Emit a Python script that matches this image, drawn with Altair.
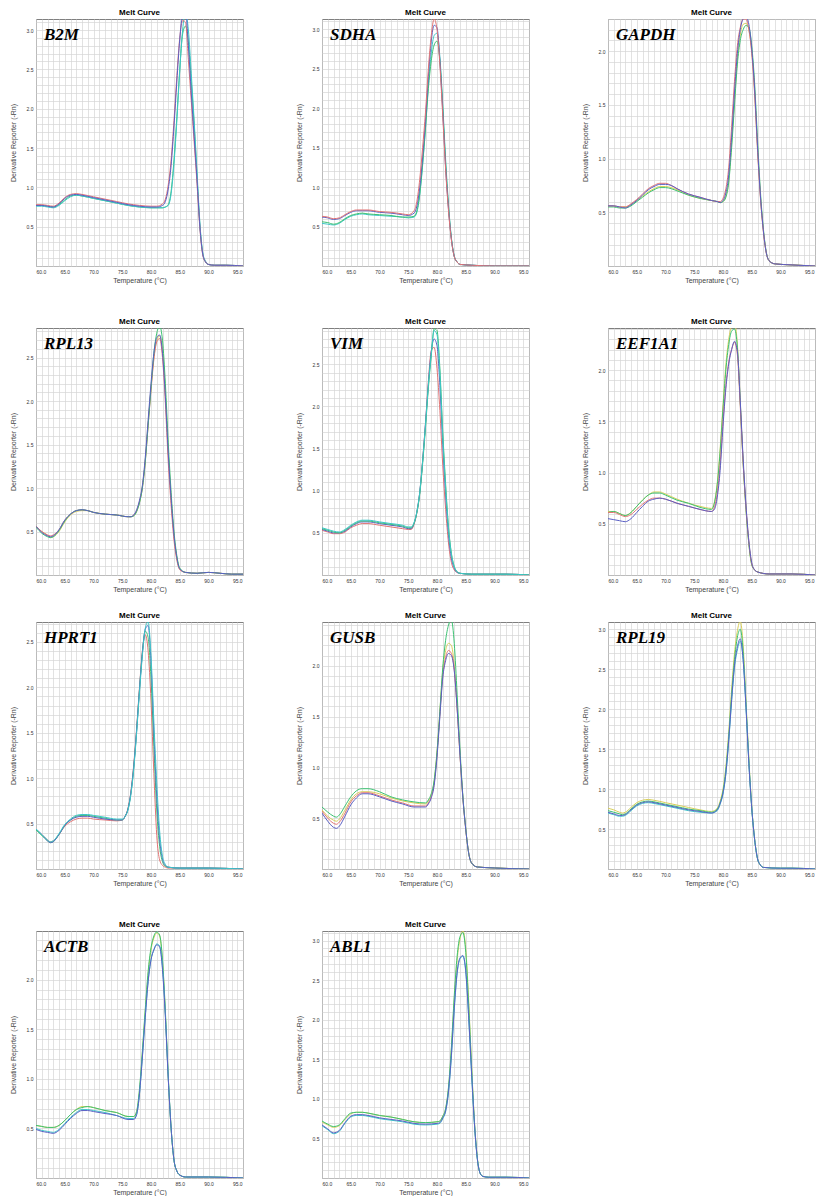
import altair as alt
import pandas as pd

# ---------------- data ----------------
GENES = ["B2M", "SDHA", "GAPDH", "RPL13", "VIM", "EEF1A1",
         "HPRT1", "GUSB", "RPL19", "ACTB", "ABL1"]
Y_TOP = [3.14, 3.13, 2.30, 2.84, 2.93, 2.41, 2.72, 2.43, 3.09, 2.49, 3.12]

B2M_T = [60, 61, 62, 63, 64, 65, 66, 67, 68, 70, 72, 74, 76, 78, 80, 81, 82, 82.5, 83,
         83.5, 84, 84.5, 85, 85.5, 86, 86.5, 87, 87.5, 88, 88.5, 89, 89.5, 90, 91, 93, 96]
B2M_RED = [0.78, 0.78, 0.77, 0.76, 0.80, 0.87, 0.91, 0.92, 0.91, 0.88, 0.85, 0.82, 0.79, 0.77, 0.76, 0.76, 0.79, 0.85, 1.03,
           1.35, 1.85, 2.42, 2.9, 3.12, 3.1, 2.62, 2.1, 1.58, 1.05, 0.48, 0.14, 0.05, 0.02, 0.01, 0.01, 0.0]
B2M_BLUE = [0.77, 0.77, 0.76, 0.75, 0.79, 0.86, 0.90, 0.91, 0.90, 0.87, 0.84, 0.81, 0.78, 0.76, 0.75, 0.75, 0.77, 0.82, 0.98,
            1.28, 1.78, 2.35, 2.88, 3.2, 3.25, 2.8, 2.2, 1.65, 1.1, 0.5, 0.15, 0.05, 0.02, 0.01, 0.01, 0.0]
B2M_GREEN = [0.77, 0.77, 0.76, 0.75, 0.78, 0.84, 0.89, 0.90, 0.89, 0.86, 0.83, 0.80, 0.77, 0.75, 0.74, 0.74, 0.74, 0.75, 0.78,
             0.95, 1.35, 1.9, 2.5, 2.95, 3.05, 2.85, 2.35, 1.8, 1.15, 0.52, 0.16, 0.05, 0.02, 0.01, 0.01, 0.0]
B2M_CYAN = [0.76, 0.76, 0.75, 0.74, 0.77, 0.83, 0.88, 0.90, 0.89, 0.86, 0.83, 0.80, 0.77, 0.75, 0.74, 0.74, 0.74, 0.75, 0.77,
            0.92, 1.3, 1.85, 2.48, 3.0, 3.22, 3.0, 2.45, 1.85, 1.2, 0.55, 0.17, 0.06, 0.02, 0.01, 0.01, 0.0]

SDHA_T = [60, 61, 62, 63, 64, 65, 66, 67, 68, 70, 72, 74, 75, 76, 76.5, 77, 77.5, 78, 78.5,
          79, 79.5, 80, 80.5, 81, 81.5, 82, 82.5, 83, 83.5, 84, 86, 90, 96]
SDHA_RED = [0.63, 0.62, 0.60, 0.61, 0.65, 0.69, 0.71, 0.71, 0.71, 0.69, 0.68, 0.66, 0.65, 0.70, 0.82, 1.1, 1.5, 1.95, 2.5,
            2.92, 3.13, 3.0, 2.55, 1.9, 1.22, 0.7, 0.33, 0.12, 0.05, 0.02, 0.01, 0.0, 0.0]
SDHA_BLUE = [0.62, 0.61, 0.59, 0.60, 0.64, 0.68, 0.70, 0.70, 0.70, 0.68, 0.67, 0.65, 0.64, 0.67, 0.76, 1.0, 1.38, 1.85, 2.4,
             2.85, 3.05, 3.02, 2.6, 1.95, 1.25, 0.72, 0.34, 0.12, 0.05, 0.02, 0.01, 0.0, 0.0]
SDHA_GREEN = [0.56, 0.55, 0.53, 0.55, 0.60, 0.64, 0.66, 0.67, 0.66, 0.65, 0.64, 0.62, 0.62, 0.63, 0.70, 0.92, 1.3, 1.75, 2.25,
              2.6, 2.8, 2.85, 2.6, 2.0, 1.3, 0.75, 0.35, 0.12, 0.05, 0.02, 0.01, 0.0, 0.0]
SDHA_CYAN = [0.54, 0.53, 0.52, 0.54, 0.59, 0.63, 0.65, 0.66, 0.65, 0.64, 0.63, 0.62, 0.61, 0.62, 0.68, 0.9, 1.28, 1.75, 2.3,
             2.7, 2.92, 2.95, 2.65, 2.05, 1.35, 0.78, 0.36, 0.13, 0.05, 0.02, 0.01, 0.0, 0.0]

GAPDH_T = [60, 61, 62, 63, 64, 65, 66, 67, 68, 69, 70, 71, 72, 74, 76, 78, 79, 79.5, 80, 80.5,
           81, 81.5, 82, 82.5, 83, 83.5, 84, 84.5, 85, 85.5, 86, 86.5, 87, 87.5, 88, 89, 92, 96]
GAPDH_RED = [0.56, 0.56, 0.55, 0.55, 0.58, 0.62, 0.67, 0.72, 0.75, 0.77, 0.77, 0.75, 0.72, 0.67, 0.64, 0.61, 0.60, 0.60, 0.63, 0.72,
             0.92, 1.3, 1.72, 2.05, 2.22, 2.3, 2.3, 2.2, 1.98, 1.6, 1.08, 0.64, 0.33, 0.13, 0.05, 0.02, 0.01, 0.0]
GAPDH_BLUE = [0.56, 0.56, 0.55, 0.54, 0.57, 0.61, 0.66, 0.71, 0.74, 0.76, 0.76, 0.75, 0.72, 0.67, 0.64, 0.61, 0.60, 0.59, 0.61, 0.68,
              0.85, 1.2, 1.62, 1.98, 2.2, 2.3, 2.32, 2.25, 2.02, 1.65, 1.12, 0.66, 0.34, 0.13, 0.05, 0.02, 0.01, 0.0]
GAPDH_GREEN = [0.55, 0.55, 0.54, 0.54, 0.56, 0.60, 0.64, 0.68, 0.71, 0.73, 0.73, 0.72, 0.70, 0.66, 0.63, 0.61, 0.60, 0.59, 0.60, 0.64,
               0.78, 1.1, 1.5, 1.88, 2.1, 2.2, 2.24, 2.22, 2.05, 1.7, 1.18, 0.7, 0.36, 0.14, 0.05, 0.02, 0.01, 0.0]
GAPDH_YELLOW = [0.56, 0.56, 0.55, 0.55, 0.57, 0.61, 0.65, 0.69, 0.72, 0.74, 0.74, 0.73, 0.71, 0.66, 0.63, 0.61, 0.60, 0.59, 0.60, 0.65,
                0.8, 1.15, 1.55, 1.92, 2.15, 2.25, 2.26, 2.2, 2.0, 1.62, 1.1, 0.66, 0.34, 0.13, 0.05, 0.02, 0.01, 0.0]

RPL13_T = [60, 61, 62, 62.5, 63, 64, 65, 66, 67, 68, 69, 70, 72, 74, 76, 76.5, 77, 77.5, 78, 78.5,
           79, 79.5, 80, 80.5, 81, 81.5, 82, 82.5, 83, 83.5, 84, 84.5, 85, 86, 88, 90, 92, 94, 96]
RPL13_BLUE = [0.56, 0.49, 0.45, 0.44, 0.45, 0.52, 0.63, 0.70, 0.74, 0.75, 0.74, 0.72, 0.70, 0.69, 0.67, 0.67, 0.69, 0.75, 0.86, 1.03,
              1.35, 1.78, 2.2, 2.55, 2.73, 2.76, 2.55, 2.05, 1.4, 0.88, 0.46, 0.2, 0.07, 0.03, 0.02, 0.03, 0.02, 0.01, 0.01]
RPL13_RED = [0.56, 0.50, 0.46, 0.45, 0.46, 0.52, 0.63, 0.70, 0.74, 0.75, 0.74, 0.72, 0.70, 0.69, 0.67, 0.67, 0.69, 0.74, 0.84, 1.0,
             1.3, 1.72, 2.12, 2.48, 2.68, 2.72, 2.5, 1.98, 1.3, 0.8, 0.4, 0.17, 0.06, 0.03, 0.02, 0.03, 0.02, 0.01, 0.01]
RPL13_GREEN = [0.55, 0.48, 0.44, 0.43, 0.44, 0.51, 0.62, 0.70, 0.74, 0.75, 0.74, 0.72, 0.70, 0.69, 0.67, 0.67, 0.68, 0.73, 0.83, 1.0,
               1.3, 1.72, 2.15, 2.55, 2.78, 2.86, 2.7, 2.2, 1.52, 0.95, 0.5, 0.22, 0.08, 0.03, 0.02, 0.03, 0.02, 0.01, 0.01]
RPL13_YELLOW = [0.56, 0.50, 0.46, 0.43, 0.44, 0.50, 0.61, 0.69, 0.73, 0.74, 0.74, 0.72, 0.70, 0.69, 0.67, 0.67, 0.68, 0.73, 0.84, 1.02,
                1.32, 1.75, 2.15, 2.5, 2.7, 2.75, 2.6, 2.1, 1.42, 0.88, 0.45, 0.19, 0.07, 0.03, 0.02, 0.03, 0.02, 0.01, 0.01]

VIM_T = [60, 61, 62, 63, 64, 65, 66, 67, 68, 70, 72, 74, 75, 75.5, 76, 76.5, 77, 77.5, 78, 78.5,
         79, 79.5, 80, 80.5, 81, 81.5, 82, 82.5, 83, 83.5, 84, 86, 88, 90, 92, 96]
VIM_CYAN = [0.56, 0.54, 0.52, 0.51, 0.54, 0.59, 0.63, 0.65, 0.65, 0.63, 0.61, 0.59, 0.57, 0.57, 0.62, 0.75, 0.98, 1.35, 1.78, 2.25,
            2.62, 2.9, 2.85, 2.4, 1.65, 1.04, 0.55, 0.25, 0.1, 0.04, 0.02, 0.01, 0.01, 0.01, 0.01, 0.0]
VIM_RED = [0.53, 0.51, 0.49, 0.49, 0.51, 0.56, 0.59, 0.61, 0.61, 0.59, 0.57, 0.55, 0.54, 0.54, 0.60, 0.74, 0.98, 1.36, 1.8, 2.3,
           2.66, 2.7, 2.45, 1.95, 1.3, 0.78, 0.38, 0.15, 0.06, 0.03, 0.02, 0.01, 0.01, 0.01, 0.01, 0.0]
VIM_BLUE = [0.54, 0.52, 0.50, 0.50, 0.52, 0.57, 0.61, 0.63, 0.63, 0.61, 0.59, 0.57, 0.55, 0.55, 0.61, 0.75, 0.98, 1.35, 1.8, 2.27,
            2.65, 2.8, 2.72, 2.25, 1.55, 0.95, 0.48, 0.2, 0.08, 0.03, 0.02, 0.01, 0.01, 0.01, 0.01, 0.0]
VIM_GREEN = [0.55, 0.53, 0.51, 0.50, 0.53, 0.58, 0.62, 0.64, 0.64, 0.62, 0.60, 0.58, 0.56, 0.56, 0.61, 0.74, 0.96, 1.32, 1.75, 2.22,
             2.6, 2.92, 2.9, 2.45, 1.7, 1.08, 0.57, 0.26, 0.1, 0.04, 0.02, 0.01, 0.01, 0.01, 0.01, 0.0]

EEF1A1_T = [60, 61, 62, 63, 64, 65, 66, 67, 68, 69, 70, 72, 74, 76, 78, 78.5, 79, 79.5, 80, 80.5,
            81, 81.5, 82, 82.5, 83, 83.5, 84, 84.5, 85, 85.5, 86, 88, 92, 96]
EEF1A1_RED = [0.61, 0.61, 0.59, 0.57, 0.59, 0.64, 0.69, 0.73, 0.75, 0.75, 0.74, 0.70, 0.67, 0.64, 0.62, 0.66, 0.8, 1.08, 1.5, 1.85,
              2.08, 2.2, 2.27, 2.15, 1.65, 1.1, 0.66, 0.32, 0.11, 0.05, 0.03, 0.01, 0.01, 0.0]
EEF1A1_BLUE = [0.55, 0.54, 0.53, 0.52, 0.55, 0.61, 0.67, 0.72, 0.74, 0.75, 0.74, 0.70, 0.67, 0.64, 0.62, 0.64, 0.76, 1.02, 1.45, 1.82,
               2.06, 2.2, 2.28, 2.18, 1.7, 1.14, 0.68, 0.33, 0.12, 0.05, 0.03, 0.01, 0.01, 0.0]
EEF1A1_GREEN = [0.61, 0.62, 0.60, 0.58, 0.61, 0.67, 0.73, 0.78, 0.80, 0.80, 0.78, 0.73, 0.70, 0.66, 0.64, 0.7, 0.88, 1.2, 1.62, 2.0,
                2.25, 2.38, 2.4, 2.22, 1.68, 1.1, 0.64, 0.3, 0.1, 0.05, 0.03, 0.01, 0.01, 0.0]
EEF1A1_YELLOW = [0.62, 0.62, 0.60, 0.58, 0.61, 0.67, 0.73, 0.78, 0.81, 0.81, 0.79, 0.74, 0.70, 0.67, 0.65, 0.71, 0.9, 1.23, 1.66, 2.05,
                 2.3, 2.43, 2.46, 2.25, 1.7, 1.1, 0.64, 0.3, 0.1, 0.05, 0.03, 0.01, 0.01, 0.0]

HPRT1_T = [60, 61, 62, 62.5, 63, 64, 65, 66, 67, 68, 69, 70, 72, 74, 75, 75.5, 76, 76.5, 77, 77.5,
           78, 78.5, 79, 79.5, 80, 80.5, 81, 81.5, 82, 82.5, 83, 85, 90, 96]
HPRT1_RED = [0.44, 0.38, 0.32, 0.30, 0.31, 0.38, 0.47, 0.52, 0.55, 0.56, 0.56, 0.55, 0.54, 0.53, 0.54, 0.58, 0.67, 0.85, 1.15, 1.55,
             2.0, 2.4, 2.58, 2.4, 1.85, 1.05, 0.37, 0.1, 0.04, 0.02, 0.01, 0.01, 0.01, 0.0]
HPRT1_CYAN = [0.44, 0.38, 0.32, 0.30, 0.31, 0.39, 0.49, 0.55, 0.59, 0.60, 0.60, 0.59, 0.57, 0.55, 0.55, 0.58, 0.65, 0.82, 1.1, 1.5,
              1.95, 2.35, 2.65, 2.72, 2.35, 1.62, 0.95, 0.42, 0.14, 0.05, 0.02, 0.01, 0.01, 0.0]
HPRT1_GREEN = [0.43, 0.37, 0.31, 0.29, 0.30, 0.38, 0.48, 0.54, 0.58, 0.59, 0.59, 0.58, 0.56, 0.54, 0.54, 0.58, 0.66, 0.83, 1.12, 1.52,
               1.98, 2.38, 2.62, 2.55, 2.1, 1.35, 0.65, 0.25, 0.08, 0.03, 0.02, 0.01, 0.01, 0.0]
HPRT1_BLUE = [0.44, 0.38, 0.31, 0.29, 0.30, 0.38, 0.48, 0.54, 0.57, 0.58, 0.58, 0.57, 0.55, 0.54, 0.54, 0.58, 0.66, 0.84, 1.13, 1.53,
              1.98, 2.38, 2.64, 2.68, 2.28, 1.5, 0.8, 0.33, 0.11, 0.04, 0.02, 0.01, 0.01, 0.0]

GUSB_T = [60, 61, 62, 62.5, 63, 64, 65, 66, 67, 68, 70, 72, 74, 76, 78, 78.5, 79, 79.5, 80, 80.5,
          81, 81.5, 82, 82.5, 83, 83.5, 84, 84.5, 85, 85.5, 86, 87, 90, 96]
GUSB_BLUE = [0.55, 0.47, 0.41, 0.40, 0.42, 0.52, 0.63, 0.70, 0.74, 0.74, 0.71, 0.67, 0.64, 0.61, 0.61, 0.64, 0.7, 0.82, 1.1, 1.5,
             1.88, 2.05, 2.12, 2.1, 1.95, 1.58, 1.12, 0.7, 0.39, 0.16, 0.06, 0.02, 0.01, 0.0]
GUSB_YELLOW = [0.58, 0.52, 0.48, 0.47, 0.49, 0.58, 0.68, 0.74, 0.76, 0.76, 0.74, 0.70, 0.67, 0.65, 0.64, 0.67, 0.73, 0.86, 1.15, 1.55,
               1.95, 2.15, 2.22, 2.2, 2.0, 1.6, 1.12, 0.7, 0.39, 0.16, 0.06, 0.02, 0.01, 0.0]
GUSB_GREEN = [0.61, 0.56, 0.52, 0.51, 0.53, 0.62, 0.71, 0.77, 0.79, 0.79, 0.76, 0.71, 0.68, 0.66, 0.65, 0.68, 0.74, 0.87, 1.15, 1.55,
              1.98, 2.25, 2.4, 2.45, 2.22, 1.72, 1.18, 0.72, 0.4, 0.16, 0.06, 0.02, 0.01, 0.0]
GUSB_RED = [0.57, 0.50, 0.45, 0.44, 0.46, 0.55, 0.66, 0.72, 0.75, 0.75, 0.72, 0.68, 0.65, 0.62, 0.62, 0.65, 0.71, 0.84, 1.12, 1.52,
            1.9, 2.08, 2.15, 2.12, 1.96, 1.58, 1.12, 0.7, 0.39, 0.16, 0.06, 0.02, 0.01, 0.0]

RPL19_T = [60, 61, 62, 62.5, 63, 64, 65, 66, 67, 68, 70, 72, 74, 76, 78, 79, 79.5, 80, 80.5, 81,
           81.5, 82, 82.5, 83, 83.5, 84, 84.5, 85, 85.5, 86, 86.5, 87, 90, 92, 96]
RPL19_BLUE = [0.71, 0.69, 0.67, 0.67, 0.68, 0.74, 0.80, 0.83, 0.84, 0.83, 0.80, 0.77, 0.74, 0.72, 0.70, 0.74, 0.82, 0.95, 1.2, 1.62,
              2.12, 2.55, 2.78, 2.88, 2.62, 2.02, 1.32, 0.76, 0.37, 0.13, 0.05, 0.02, 0.01, 0.01, 0.0]
RPL19_YELLOW = [0.76, 0.74, 0.71, 0.70, 0.71, 0.77, 0.83, 0.86, 0.87, 0.86, 0.83, 0.80, 0.77, 0.74, 0.72, 0.76, 0.85, 1.0, 1.28, 1.72,
                2.25, 2.7, 2.98, 3.1, 2.8, 2.1, 1.38, 0.78, 0.38, 0.13, 0.05, 0.02, 0.01, 0.01, 0.0]
RPL19_GREEN = [0.73, 0.71, 0.69, 0.68, 0.69, 0.75, 0.81, 0.84, 0.85, 0.84, 0.81, 0.78, 0.75, 0.73, 0.71, 0.75, 0.83, 0.97, 1.24, 1.66,
               2.18, 2.62, 2.9, 3.0, 2.72, 2.06, 1.35, 0.77, 0.37, 0.13, 0.05, 0.02, 0.01, 0.01, 0.0]
RPL19_CYAN = [0.70, 0.68, 0.66, 0.66, 0.67, 0.73, 0.79, 0.82, 0.83, 0.82, 0.79, 0.76, 0.73, 0.71, 0.70, 0.73, 0.81, 0.94, 1.19, 1.6,
              2.1, 2.52, 2.74, 2.85, 2.62, 2.02, 1.32, 0.76, 0.37, 0.13, 0.05, 0.02, 0.01, 0.01, 0.0]

ACTB_T = [60, 61, 62, 63, 64, 65, 66, 67, 68, 69, 70, 72, 74, 76, 77, 77.5, 78, 78.5, 79, 79.5,
          80, 80.5, 81, 81.5, 82, 82.5, 83, 83.5, 84, 84.5, 85, 86, 90, 96]
ACTB_BLUE = [0.49, 0.47, 0.46, 0.45, 0.48, 0.54, 0.60, 0.65, 0.68, 0.68, 0.67, 0.65, 0.63, 0.59, 0.59, 0.64, 0.85, 1.22, 1.62, 1.98,
             2.2, 2.3, 2.35, 2.33, 2.1, 1.62, 1.0, 0.5, 0.18, 0.07, 0.03, 0.01, 0.01, 0.0]
ACTB_GREEN = [0.53, 0.52, 0.51, 0.51, 0.53, 0.58, 0.64, 0.69, 0.71, 0.72, 0.71, 0.68, 0.66, 0.62, 0.62, 0.67, 0.9, 1.28, 1.7, 2.08,
              2.32, 2.44, 2.48, 2.45, 2.2, 1.68, 1.02, 0.5, 0.18, 0.07, 0.03, 0.01, 0.01, 0.0]
ACTB_YELLOW = [0.53, 0.52, 0.51, 0.51, 0.53, 0.58, 0.64, 0.69, 0.72, 0.72, 0.71, 0.68, 0.66, 0.62, 0.62, 0.67, 0.88, 1.26, 1.68, 2.05,
               2.3, 2.42, 2.47, 2.44, 2.18, 1.66, 1.01, 0.5, 0.18, 0.07, 0.03, 0.01, 0.01, 0.0]
ACTB_CYAN = [0.50, 0.48, 0.47, 0.46, 0.49, 0.55, 0.61, 0.66, 0.69, 0.69, 0.68, 0.66, 0.63, 0.60, 0.60, 0.64, 0.85, 1.22, 1.62, 1.98,
             2.2, 2.3, 2.36, 2.34, 2.12, 1.64, 1.02, 0.5, 0.18, 0.07, 0.03, 0.01, 0.01, 0.0]

ABL1_T = [60, 61, 62, 63, 64, 65, 66, 67, 68, 70, 72, 74, 76, 78, 80, 80.5, 81, 81.5, 82, 82.5,
          83, 83.5, 84, 84.5, 85, 85.5, 86, 86.5, 87, 87.5, 88, 89, 92, 96]
ABL1_BLUE = [0.67, 0.62, 0.57, 0.60, 0.70, 0.78, 0.80, 0.80, 0.79, 0.76, 0.74, 0.72, 0.69, 0.68, 0.69, 0.70, 0.76, 0.85, 1.1, 1.55,
             2.15, 2.6, 2.78, 2.81, 2.62, 2.05, 1.35, 0.7, 0.25, 0.06, 0.02, 0.01, 0.01, 0.0]
ABL1_GREEN = [0.72, 0.68, 0.65, 0.67, 0.75, 0.82, 0.83, 0.83, 0.82, 0.79, 0.77, 0.74, 0.71, 0.70, 0.71, 0.72, 0.78, 0.88, 1.15, 1.65,
              2.3, 2.8, 3.05, 3.1, 2.85, 2.2, 1.42, 0.72, 0.26, 0.06, 0.02, 0.01, 0.01, 0.0]
ABL1_YELLOW = [0.71, 0.67, 0.64, 0.66, 0.74, 0.81, 0.83, 0.83, 0.82, 0.79, 0.77, 0.74, 0.71, 0.70, 0.71, 0.72, 0.78, 0.87, 1.13, 1.62,
               2.25, 2.75, 3.02, 3.12, 2.9, 2.25, 1.45, 0.73, 0.26, 0.06, 0.02, 0.01, 0.01, 0.0]
ABL1_CYAN = [0.66, 0.61, 0.56, 0.59, 0.69, 0.77, 0.79, 0.79, 0.78, 0.75, 0.73, 0.71, 0.68, 0.67, 0.68, 0.69, 0.75, 0.84, 1.08, 1.53,
             2.12, 2.58, 2.77, 2.8, 2.6, 2.03, 1.33, 0.69, 0.25, 0.06, 0.02, 0.01, 0.01, 0.0]

CURVES = {
    "B2M": (B2M_T, [("green", B2M_GREEN), ("cyan", B2M_CYAN), ("red", B2M_RED), ("blue", B2M_BLUE)]),
    "SDHA": (SDHA_T, [("cyan", SDHA_CYAN), ("green", SDHA_GREEN), ("blue", SDHA_BLUE), ("red", SDHA_RED)]),
    "GAPDH": (GAPDH_T, [("yellow", GAPDH_YELLOW), ("green", GAPDH_GREEN), ("red", GAPDH_RED), ("blue", GAPDH_BLUE)]),
    "RPL13": (RPL13_T, [("yellow", RPL13_YELLOW), ("red", RPL13_RED), ("green", RPL13_GREEN), ("blue", RPL13_BLUE)]),
    "VIM": (VIM_T, [("red", VIM_RED), ("blue", VIM_BLUE), ("green", VIM_GREEN), ("cyan", VIM_CYAN)]),
    "EEF1A1": (EEF1A1_T, [("yellow", EEF1A1_YELLOW), ("green", EEF1A1_GREEN), ("red", EEF1A1_RED), ("blue", EEF1A1_BLUE)]),
    "HPRT1": (HPRT1_T, [("red", HPRT1_RED), ("green", HPRT1_GREEN), ("blue", HPRT1_BLUE), ("cyan", HPRT1_CYAN)]),
    "GUSB": (GUSB_T, [("yellow", GUSB_YELLOW), ("red", GUSB_RED), ("green", GUSB_GREEN), ("blue", GUSB_BLUE)]),
    "RPL19": (RPL19_T, [("yellow", RPL19_YELLOW), ("green", RPL19_GREEN), ("cyan", RPL19_CYAN), ("blue", RPL19_BLUE)]),
    "ACTB": (ACTB_T, [("yellow", ACTB_YELLOW), ("green", ACTB_GREEN), ("cyan", ACTB_CYAN), ("blue", ACTB_BLUE)]),
    "ABL1": (ABL1_T, [("yellow", ABL1_YELLOW), ("green", ABL1_GREEN), ("cyan", ABL1_CYAN), ("blue", ABL1_BLUE)]),
}

REP_NAMES = ["red", "blue", "green", "cyan", "yellow"]
REP_COLORS = ["#e27474", "#5a5fc4", "#3cc272", "#3cc6c8", "#d8cf5a"]

X_TICKS = list(range(60, 97))

W, H = 207, 247


def panel(gene, ytop):
    temps, series = CURVES[gene]
    rows = []
    for order, (name, vals) in enumerate(series):
        for t, v in zip(temps, vals):
            rows.append({"temp": t, "val": v, "rep": name, "ord": order})
    df = pd.DataFrame(rows)
    y_ticks = [round(i * 0.1, 1) for i in range(0, int(round(ytop * 10)) + 1)]
    x_enc = alt.X("temp:Q",
                  scale=alt.Scale(domain=[60, 96], nice=False, zero=False),
                  axis=alt.Axis(values=X_TICKS,
                                labelExpr="(datum.value % 5 == 0 && datum.value < 96) ? format(datum.value, '.1f') : ''",
                                title="Temperature (°C)", labelPadding=3, titlePadding=2))
    y_enc = alt.Y("val:Q",
                  scale=alt.Scale(domain=[0, ytop], nice=False, zero=True),
                  axis=alt.Axis(values=y_ticks,
                                labelExpr="(round(datum.value * 10) % 5 == 0 && datum.value > 0) ? format(datum.value, '.1f') : ''",
                                title="Derivative Reporter (-Rn)", labelPadding=3, titlePadding=10))
    lines = alt.Chart(df).mark_line(clip=True, strokeWidth=1, interpolate="monotone").encode(
        x=x_enc, y=y_enc,
        color=alt.Color("rep:N", scale=alt.Scale(domain=REP_NAMES, range=REP_COLORS), legend=None),
        order=alt.Order("ord:Q"),
    )
    label = alt.Chart(pd.DataFrame({"g": [gene]})).mark_text(
        font="Liberation Serif", fontStyle="italic", fontWeight="bold", fontSize=17,
        align="left", baseline="alphabetic", color="black"
    ).encode(x=alt.value(8), y=alt.value(21), text="g:N")
    return alt.layer(lines, label).properties(
        width=W, height=H,
        title=alt.TitleParams("Melt Curve", fontSize=8, font="Liberation Sans",
                              fontWeight="bold", offset=2, color="black"),
    )


panels = [panel(g, yt) for g, yt in zip(GENES, Y_TOP)]

row1 = alt.hconcat(*panels[0:3], spacing=50)
row2 = alt.hconcat(*panels[3:6], spacing=50)
row3 = alt.hconcat(*panels[6:9], spacing=50)
row4 = alt.hconcat(*panels[9:11], spacing=50)

top = alt.vconcat(row1, row2, spacing=33)
bottom = alt.vconcat(row3, row4, spacing=33)

chart = alt.vconcat(top, bottom, spacing=18).properties(padding=0).configure_view(
    stroke="#7f7f7f", strokeWidth=1
).configure_axis(
    grid=True, gridColor="#d6d6d6", gridWidth=0.7, domain=False, ticks=False,
    labelFont="Liberation Sans", labelFontSize=5, labelColor="#333333",
    titleFont="Liberation Sans", titleFontSize=7, titleFontWeight="normal", titleColor="#444444",
).configure_concat(spacing=50)

chart.save("out.html", embed_options={"renderer": "svg", "actions": False})
